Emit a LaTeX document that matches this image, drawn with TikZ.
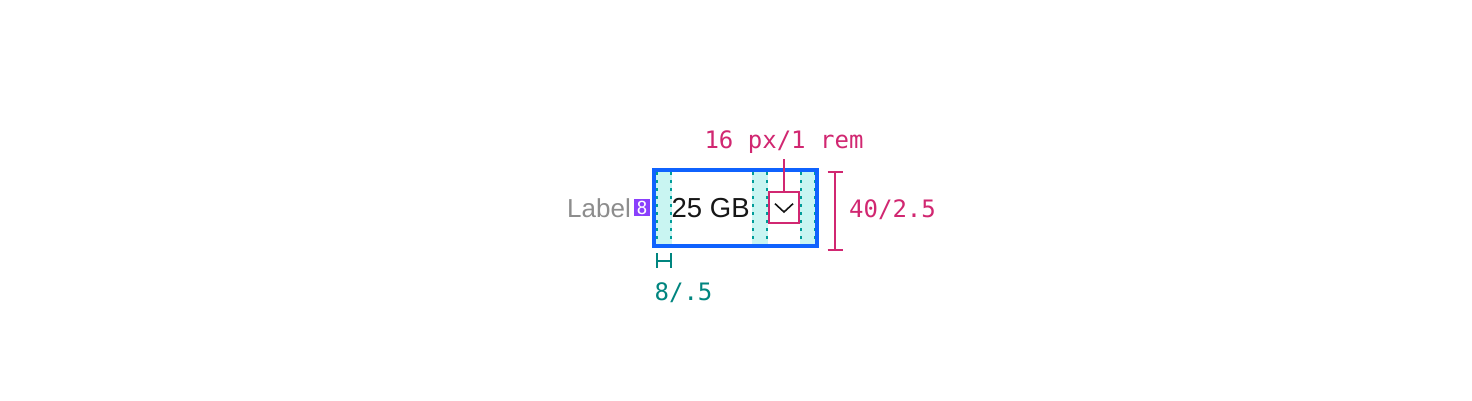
\documentclass[tikz,border=0pt]{standalone}
\usepackage{fontspec}
\setmainfont{Liberation Sans}
\newfontfamily\monof{DejaVu Sans Mono}
\definecolor{ibmblue}{HTML}{0F62FE}
\definecolor{bandfill}{HTML}{C9F5F2}
\definecolor{guideteal}{HTML}{009D9A}
\definecolor{specteal}{HTML}{00857F}
\definecolor{specmag}{HTML}{D12771}
\definecolor{labelgray}{HTML}{8D8D8D}
\definecolor{chippurple}{HTML}{8A3FFC}
\definecolor{ink}{HTML}{161616}
\tikzset{
  band/.style={fill=bandfill, draw=none},
  guide/.style={draw=guideteal, line width=2pt, dash pattern=on 3pt off 5pt},
  fieldbox/.style={draw=ibmblue, line width=4pt, inner sep=0pt, minimum width=163.5pt, minimum height=76pt},
  ddbox/.style={draw=specmag, line width=2pt, inner sep=0pt, minimum width=30pt, minimum height=30.5pt},
  chev/.style={draw=ink, line width=1.6pt},
  magline/.style={draw=specmag, line width=2pt},
  tealline/.style={draw=specteal, line width=2pt},
  monotxt/.style={font=\monof\fontsize{24}{28}\selectfont, inner sep=0pt},
  sanstxt/.style={font=\fontsize{26}{30}\selectfont, inner sep=0pt},
}
\begin{document}
\begin{tikzpicture}[x=1pt,y=-1pt]
\useasboundingbox (0,0) rectangle (1472,400);
\fill[white] (0,0) rectangle (1472,400);
% padding bands
\fill[band] (655.5,171.5) rectangle (672,243.5);
\fill[band] (752,171.5) rectangle (768,243.5);
\fill[band] (800,171.5) rectangle (815.5,243.5);
\foreach \x in {656.5,671,753,767,801,814.5}
  \draw[guide] (\x,172) -- (\x,243.5);
% field border
\node[fieldbox] (field) at (735.25,207.5) {};
% dropdown icon box
\node[ddbox] (dd) at (784,207.5) {};
\draw[chev] ([shift={(-9,-3.8)}]dd.center) -- ([shift={(0,4.5)}]dd.center) -- ([shift={(9,-3.8)}]dd.center);
% label and chip
\node[sanstxt, text=labelgray, anchor=base east] (label) at (631,217) {Label};
\node[fill=chippurple, minimum size=16.5pt, inner sep=0pt, text=white, font=\monof\fontsize{18}{18}\selectfont] (chip) at (642,207.5) {8};
% value
\node[sanstxt, font=\fontsize{27.5}{30}\selectfont, text=ink, anchor=base west] (value) at (671.5,217.3) {25 GB};
% top spec
\node[monotxt, text=specmag, anchor=base] (topspec) at (784,148.5) {16 px/1 rem};
\coordinate (toplineend) at (784,159);
\draw[magline] (toplineend) -- (dd.north);
% height spec
\coordinate (vtop) at (835,172);
\coordinate (vbot) at (835,249.5);
\draw[magline] (vtop) -- (vbot);
\draw[magline] ([xshift=-7.5pt]vtop) -- ([xshift=7.5pt]vtop);
\draw[magline] ([xshift=-7.5pt]vbot) -- ([xshift=7.5pt]vbot);
\node[monotxt, text=specmag, anchor=base] (hspec) at (892.5,217) {40/2.5};
% padding spec
\coordinate (pl) at (656.5,253);
\coordinate (pr) at (671,253);
\draw[tealline] (pl) -- ++(0,15);
\draw[tealline] (pr) -- ++(0,15);
\draw[tealline] ([yshift=-7.5pt]pl) -- ([yshift=-7.5pt]pr);
\node[monotxt, text=specteal, anchor=base] (pspec) at (683.5,300) {8/.5};
\end{tikzpicture}
\end{document}
